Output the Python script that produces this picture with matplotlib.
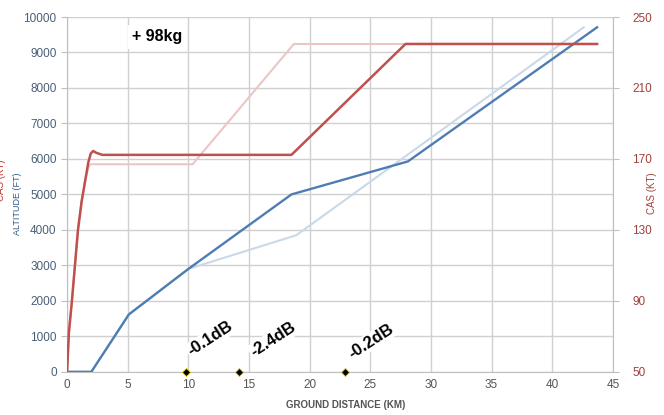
import matplotlib.pyplot as plt

plt.rcParams['font.family'] = ['Liberation Sans', 'DejaVu Sans']

# altitude profiles (ft) vs ground distance (km)
alt_x = [0, 2.0, 5.1, 10, 18.5, 28.1, 43.7]
alt_y = [0, 0, 1620, 2900, 5000, 5930, 9710]
alt_ref_x = [0, 2.0, 5.1, 10, 18.9, 42.6]
alt_ref_y = [0, 0, 1620, 2900, 3850, 9710]

# CAS profiles (kt)
cas_x = [0, 0.15, 0.4, 0.9, 1.2, 1.5, 1.75, 1.95, 2.15, 2.4, 2.9, 18.5, 27.9, 43.7]
cas_y = [50, 72, 90, 130, 146, 158, 168, 173, 174.5, 173.5, 172.3, 172.3, 234.8, 234.8]
cas_ref_x = [0, 0.15, 0.4, 0.9, 1.2, 1.5, 1.75, 1.9, 10.35, 18.7, 43.7]
cas_ref_y = [50, 72, 90, 130, 146, 158, 165, 167, 167, 234.8, 234.8]

# noise markers
mark_x = [9.8, 14.2, 22.9]
mark_lbl = ["-0.1dB", "-2.4dB", "-0.2dB"]
lbl_pos = [(11.8, 930), (17.0, 900), (25.1, 870)]

fig = plt.figure(figsize=(6.64, 4.15), dpi=100)
ax = fig.add_axes([0.101, 0.104, 0.822, 0.855])
ax2 = ax.twinx()

grid_c = '#d0d0d0'
ax.set_xlim(0, 45)
ax.set_ylim(0, 10000)
ax.set_xticks(range(0, 46, 5))
ax.set_yticks(range(0, 10001, 1000))
ax.grid(True, color=grid_c, lw=1)
ax.set_axisbelow(True)
for s in ['left', 'bottom', 'right']:
    ax.spines[s].set_color('#bfbfbf')
ax.spines['top'].set_visible(False)
ax.tick_params(axis='y', colors='#bfbfbf', labelcolor='#4a5f78', labelsize=8.5, length=4)
ax.tick_params(axis='x', length=0, labelcolor='#555555', labelsize=8.5, pad=5)

ax2.set_ylim(50, 250)
ax2.set_yticks(range(50, 251, 40))
for s in ['left', 'bottom', 'right', 'top']:
    ax2.spines[s].set_visible(False)
ax2.tick_params(axis='y', colors='#bfbfbf', labelcolor='#a0403c', labelsize=8.5, length=4, pad=10)

ax.plot(alt_ref_x, alt_ref_y, color='#c9d9e8', lw=1.5, zorder=3)
ax.plot(alt_x, alt_y, color='#4f7db3', lw=1.7, zorder=4)
ax2.plot(cas_ref_x, cas_ref_y, color='#ebc6c5', lw=1.5, zorder=3)
ax2.plot(cas_x, cas_y, color='#c0504d', lw=1.8, zorder=4)

ax.plot(mark_x, [0] * len(mark_x), ls='none', marker='D', ms=4.5,
        mfc='black', mec='#d8c400', mew=0.6, zorder=6, clip_on=False)
for (tx, ty), t in zip(lbl_pos, mark_lbl):
    ax.text(tx, ty, t, rotation=33, ha='center', va='center', fontsize=12,
            fontweight='bold', zorder=5,
            bbox=dict(facecolor='white', edgecolor='none', pad=1))

ax.text(7.4, 9440, "+ 98kg", ha='center', va='center', fontsize=11.5,
        fontweight='bold', zorder=5,
        bbox=dict(facecolor='white', edgecolor='none', pad=3))

fig.text(0.52, 0.024, "GROUND DISTANCE (KM)", ha='center', va='center',
         fontsize=7, fontweight='bold', color='#555555')
fig.text(0.027, 0.51, "ALTITUDE (FT)", rotation=90, ha='center', va='center',
         fontsize=6.5, color='#2f5a8a')
fig.text(0.001, 0.565, "CAS (KT)", rotation=90, ha='center', va='center',
         fontsize=7, color='#c0392b')
fig.text(0.982, 0.535, "CAS (KT)", rotation=90, ha='center', va='center',
         fontsize=7, color='#a0403c')

fig.savefig('out.png', dpi=100)
